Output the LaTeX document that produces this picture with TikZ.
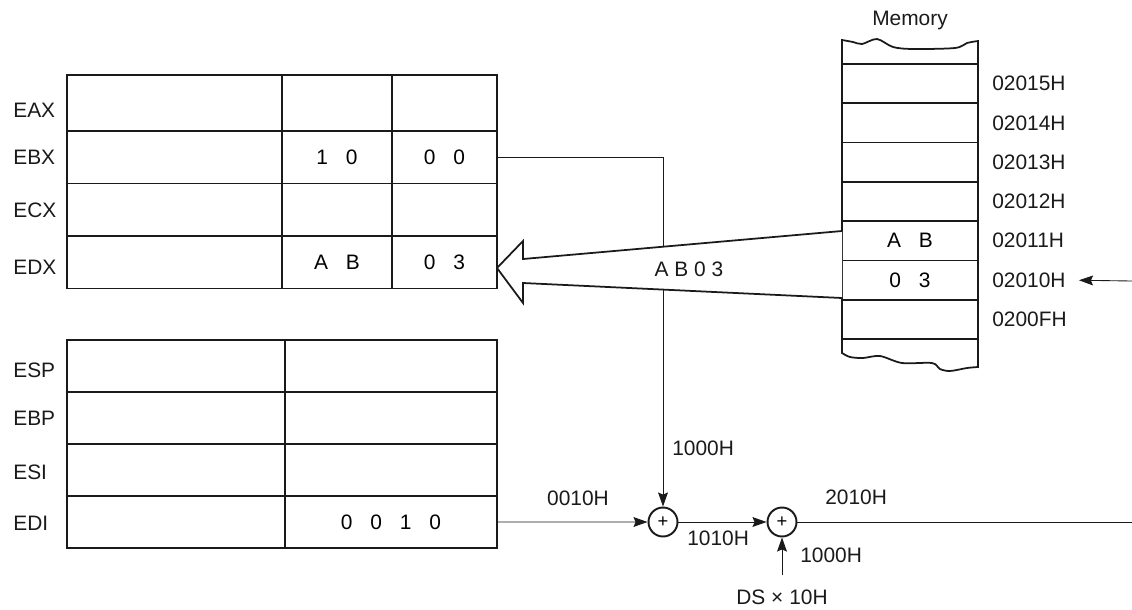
\documentclass[tikz,border=0pt]{standalone}
\usepackage{fontspec}
\setmainfont{Liberation Sans}
\usepackage{tikz}
\usepackage{xcolor}
\usetikzlibrary{arrows.meta,positioning}
\definecolor{ink}{HTML}{1A1A1A}
\newcommand{\figfont}{\fontsize{11.9}{14}\selectfont}
\newcommand{\dgap}{\hspace{10.2pt}}
\tikzset{
  regcell/.style={draw=ink,line width=1pt,minimum height=1.05cm,
                  inner sep=0pt,outer sep=0pt,align=center},
  hicell/.style={regcell,minimum width=4.3cm},
  midcell/.style={regcell,minimum width=2.2cm},
  locell/.style={regcell,minimum width=2.1cm},
  ptrhi/.style={regcell,minimum width=4.36cm,minimum height=1.04cm},
  ptrlo/.style={regcell,minimum width=4.24cm,minimum height=1.04cm},
  memcell/.style={draw=ink,line width=1pt,minimum width=2.72cm,
                  minimum height=0.786cm,inner sep=0pt,outer sep=0pt},
  regname/.style={anchor=west,inner sep=0pt,text=ink},
  addr/.style={anchor=west,inner sep=0pt,text=ink},
  lbl/.style={inner sep=0pt,text=ink},
  adder/.style={circle,draw=ink,line width=1.1pt,minimum size=0.58cm,
                inner sep=0pt,font=\fontsize{10.5}{11}\selectfont},
  memline/.style={draw=ink,line width=1pt},
  fatarrow/.style={draw=ink,fill=white,line width=1pt,line join=miter},
  thinline/.style={draw=ink,line width=0.5pt},
  thinarr/.style={-{Stealth[length=8pt,width=5.6pt,inset=1.2pt]},draw=ink,line width=0.5pt}
}
\begin{document}
\begin{tikzpicture}[x=0.02cm,y=-0.02cm,font=\figfont]
  \useasboundingbox (0,0) rectangle (1132,609);
  % general registers
  \node[hicell,minimum height=1.12cm] (eaxhi) at (174.5,103) {};
  \node[midcell,minimum height=1.12cm,right=0pt of eaxhi] (eaxmid) {};
  \node[locell,minimum height=1.12cm,right=0pt of eaxmid] (eaxlo) {};
  \node[hicell,below=0pt of eaxhi] (ebxhi) {};
  \node[midcell,right=0pt of ebxhi] (ebxmid) {1\dgap 0};
  \node[locell,right=0pt of ebxmid] (ebxlo) {0\dgap 0};
  \node[hicell,below=0pt of ebxhi] (ecxhi) {};
  \node[midcell,right=0pt of ecxhi] (ecxmid) {};
  \node[locell,right=0pt of ecxmid] (ecxlo) {};
  \node[hicell,below=0pt of ecxhi] (edxhi) {};
  \node[midcell,right=0pt of edxhi] (edxmid) {A\dgap B};
  \node[locell,right=0pt of edxmid] (edxlo) {0\dgap 3};
  \node[regname] (neax) at (13,110) {EAX};
  \node[regname] (nebx) at (13,157) {EBX};
  \node[regname] (necx) at (13,210) {ECX};
  \node[regname] (nedx) at (13,267) {EDX};
  % pointer and index registers
  \node[ptrhi] (esphi) at (176,366) {};
  \node[ptrlo,right=0pt of esphi] (esplo) {};
  \node[ptrhi,below=0pt of esphi] (ebphi) {};
  \node[ptrlo,right=0pt of ebphi] (ebplo) {};
  \node[ptrhi,below=0pt of ebphi] (esihi) {};
  \node[ptrlo,right=0pt of esihi] (esilo) {};
  \node[ptrhi,below=0pt of esihi] (edihi) {};
  \node[ptrlo,right=0pt of edihi] (edilo) {\raisebox{-5pt}{0\dgap 0\dgap 1\dgap 0}};
  \node[regname] (nesp) at (13,370) {ESP};
  \node[regname] (nebp) at (13,418) {EBP};
  \node[regname] (nesi) at (13,472) {ESI};
  \node[regname] (nedi) at (13,523) {EDI};
  % memory
  \node[lbl] (memtitle) at (910,20) {Memory};
  \node[memcell] (m15) at (910,83.6) {};
  \node[memcell,below=0pt of m15] (m14) {};
  \node[memcell,below=0pt of m14] (m13) {};
  \node[memcell,below=0pt of m13] (m12) {};
  \node[memcell,below=0pt of m12] (m11) {A\dgap B};
  \node[memcell,below=0pt of m11] (m10) {0\dgap 3};
  \node[memcell,below=0pt of m10] (m0f) {};
  \draw[memline] (m15.north west) -- plot[smooth] coordinates {(842,40) (853,42) (862,44) (877,39) (893,47) (913,49) (955,48) (967,43) (978,41)} -- (m15.north east);
  \draw[memline] (m0f.south west) -- plot[smooth] coordinates {(842,353) (850,357) (863,358) (880,356) (902,363) (932,363) (940,369) (950,371) (967,368) (978,367)} -- (m0f.south east);
  \node[addr,right=0.28cm of m15] (a15) {02015H};
  \node[addr,right=0.28cm of m14] (a14) {02014H};
  \node[addr,right=0.28cm of m13] (a13) {02013H};
  \node[addr,right=0.28cm of m12] (a12) {02012H};
  \node[addr,right=0.28cm of m11] (a11) {02011H};
  \node[addr,right=0.28cm of m10] (a10) {02010H};
  \node[addr,right=0.28cm of m0f] (a0f) {0200FH};
  \coordinate (ptrsrc) at (1132,281);
  \draw[thinarr,shorten >=7.4pt] (ptrsrc) -- (a10.east);
  % address arithmetic
  \node[adder] (add1) at (663,522) {+};
  \node[adder] (add2) at (782,522) {+};
  \coordinate (dsin) at (782,575);
  \coordinate (outend) at (1132,522);
  \draw[thinarr] (ebxlo.east) -| (add1.north);
  \draw[thinarr] (edilo.east) -- (add1.west);
  \draw[thinarr] (add1.east) -- (add2.west);
  \draw[thinarr] (dsin) -- (add2.south);
  \draw[thinline] (add2.east) -- (outend);
  \node[lbl] (lbase) at (578,498) {0010H};
  \node[lbl,anchor=west] (ldisp) at (672,448) {1000H};
  \node[lbl,anchor=west] (loff) at (687,538) {1010H};
  \node[lbl,anchor=west] (lseg) at (800,555) {1000H};
  \node[lbl,anchor=west] (lphys) at (825,497) {2010H};
  \node[lbl] (lds) at (782,597) {DS × 10H};
  % data transfer
  \draw[fatarrow] (842,231) -- (523,259) -- (523,241) -- (497,268) -- (523,303) -- (523,283) -- (842,298);
  \node[lbl] (ldata) at (689,269) {A B 0 3};
\end{tikzpicture}
\end{document}
